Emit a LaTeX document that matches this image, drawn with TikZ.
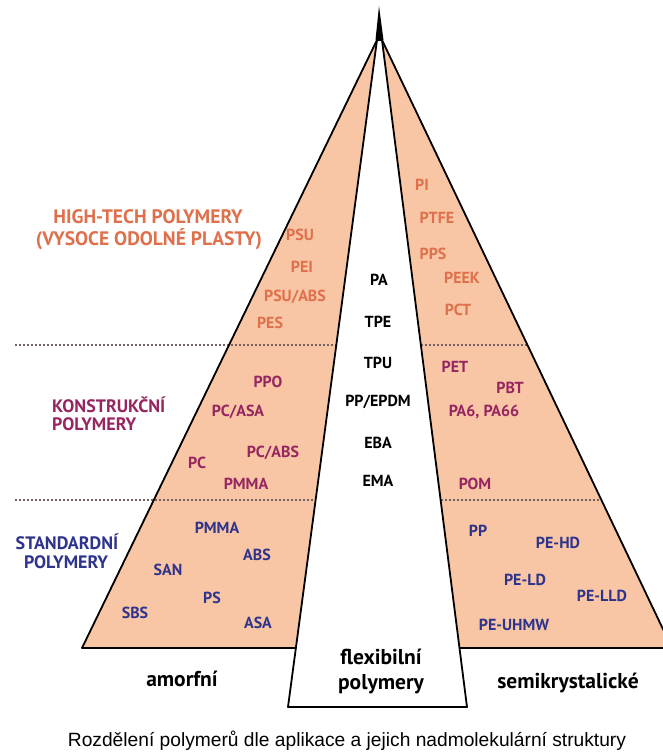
\documentclass[tikz,border=0pt]{standalone}
\usepackage{fontspec}
\newfontfamily\lab{PT Sans}
\newfontfamily\capf{Liberation Sans}
\definecolor{peach}{RGB}{248,197,165}
\definecolor{hotc}{RGB}{222,112,76}
\definecolor{konc}{RGB}{150,38,96}
\definecolor{stdc}{RGB}{46,52,140}
\definecolor{dashc}{RGB}{115,98,100}
\tikzset{
  outline/.style={draw=black, line width=1.8pt, line join=round},
  sep/.style={draw=dashc, line width=1.1pt, dash pattern=on 2.4pt off 1.6pt},
  lbl/.style={font=\lab\bfseries\fontsize{16}{19}\selectfont, inner sep=0pt},
  hot/.style={lbl, text=hotc},
  kon/.style={lbl, text=konc},
  std/.style={lbl, text=stdc},
  mid/.style={lbl, text=black},
  head/.style={font=\lab\bfseries\fontsize{18}{21}\selectfont, inner sep=0pt},
  headbig/.style={font=\lab\bfseries\fontsize{19.5}{23}\selectfont, inner sep=0pt},
  big/.style={font=\lab\bfseries\fontsize{21.5}{25}\selectfont, anchor=base, inner sep=0pt, text=black},
}
\begin{document}
\begin{tikzpicture}[x=1pt,y=-1pt]
\useasboundingbox (0,0) rectangle (663,753);
\fill[white] (0,0) rectangle (663,753);

% regions
\coordinate (tipL) at (377,40);
\coordinate (tipR) at (382,40);
\coordinate (tip) at (379,6);
\coordinate (LBL) at (82,648);
\coordinate (LBR) at (296.1,648);
\coordinate (RBL) at (459.5,648);
\coordinate (RBR) at (672,648);
\coordinate (WBL) at (288,707);
\coordinate (WBR) at (467,707);

\fill[peach] (tipL) -- (LBL) -- (LBR) -- cycle;
\fill[peach] (tipR) -- (RBL) -- (RBR) -- cycle;

% dashed separators
\draw[sep] (15,345) -- (336.3,345);
\draw[sep] (420.9,345) -- (527.5,345);
\draw[sep] (15,500) -- (315.6,500);
\draw[sep] (440.6,500) -- (601.4,500);

\draw[outline] (tipL) -- (LBL) -- (LBR);
\draw[outline] (tipR) -- (RBR) -- (RBL);
\draw[outline] (tipL) -- (WBL) -- (WBR) -- (tipR) -- cycle;
\fill[black] (375.5,40) -- (tip) -- (383.5,40) -- cycle;

% headings
\node[headbig, text=hotc] (h1) at (148,217) {HIGH-TECH POLYMERY};
\node[headbig, text=hotc] (h2) at (149,239) {(VYSOCE ODOLNÉ PLASTY)};
\node[head, text=konc, anchor=west] (k1) at (52,405) {KONSTRUKČNÍ};
\node[head, text=konc, anchor=west] (k2) at (52,424) {POLYMERY};
\node[head, text=stdc] (s1) at (67,542) {STANDARDNÍ};
\node[head, text=stdc] (s2) at (66,562) {POLYMERY};

% high-tech amorphous
\node[hot] (psu) at (300,235) {PSU};
\node[hot] (pei) at (302,267) {PEI};
\node[hot] (psuabs) at (295,297) {PSU/ABS};
\node[hot] (pes) at (270,323) {PES};
% high-tech semicrystalline
\node[hot] (pi) at (422,185) {PI};
\node[hot] (ptfe) at (437,218) {PTFE};
\node[hot] (pps) at (433,254) {PPS};
\node[hot] (peek) at (462,278) {PEEK};
\node[hot] (pct) at (458,310) {PCT};

% centre column
\node[mid] (pa) at (379,280) {PA};
\node[mid] (tpe) at (378,322) {TPE};
\node[mid] (tpu) at (378,363) {TPU};
\node[mid] (ppepdm) at (378,402) {PP/EPDM};
\node[mid] (eba) at (378,443) {EBA};
\node[mid] (ema) at (378,481) {EMA};

% construction
\node[kon] (ppo) at (268,382) {PPO};
\node[kon] (pcasa) at (238,412) {PC/ASA};
\node[kon] (pcabs) at (273,453) {PC/ABS};
\node[kon] (pc) at (197,463) {PC};
\node[kon] (pmmak) at (246,484) {PMMA};
\node[kon] (pet) at (455,367) {PET};
\node[kon] (pbt) at (510,388) {PBT};
\node[kon] (pa6) at (484,412) {PA6, PA66};
\node[kon] (pom) at (475,484) {POM};

% standard
\node[std] (pmmas) at (217,528) {PMMA};
\node[std] (abs) at (257,555) {ABS};
\node[std] (san) at (168,570) {SAN};
\node[std] (ps) at (212,598) {PS};
\node[std] (sbs) at (135,613) {SBS};
\node[std] (asa) at (258,623) {ASA};
\node[std] (pp) at (478,531) {PP};
\node[std] (pehd) at (558,543) {PE-HD};
\node[std] (peld) at (525,580) {PE-LD};
\node[std] (pelld) at (602,596) {PE-LLD};
\node[std] (peuhmw) at (514,625) {PE-UHMW};

% bottom words
\node[big] (amorf) at (182,686) {amorfní};
\node[big] (flex) at (381,664) {flexibilní};
\node[big] (flexp) at (381,689) {polymery};
\node[big] (semi) at (568,688) {semikrystalické};

% caption
\node[font=\capf\fontsize{19.2}{23}\selectfont, anchor=base, inner sep=0pt] (cap) at (347,746) {Rozdělení polymerů dle aplikace a jejich nadmolekulární struktury};
\end{tikzpicture}
\end{document}
